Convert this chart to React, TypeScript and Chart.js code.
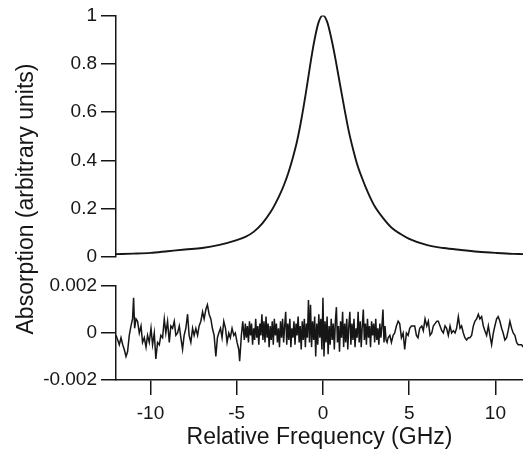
import { useEffect, useRef } from "react";
import { Chart, registerables } from "chart.js";

Chart.register(...registerables);

// ---- Data ----
const yTitle = "Absorption (arbitrary units)";
const xTitle = "Relative Frequency (GHz)";

const xMin = -12;
const xMax = 11.6;
const xTicks = [-10, -5, 0, 5, 10];
const topTicks = [0, 0.2, 0.4, 0.6, 0.8, 1];
const bottomTicks = [-0.002, 0, 0.002];

const peakFreq = [-12, -11, -10, -9, -8, -7, -6, -5, -4.5, -4, -3.5, -3, -2.75, -2.5, -2.25, -2, -1.75, -1.5, -1.25, -1, -0.75, -0.5, -0.25, 0, 0.25, 0.5, 0.75, 1, 1.25, 1.5, 1.75, 2, 2.25, 2.5, 2.75, 3, 3.5, 4, 4.5, 5, 6, 7, 8, 9, 10, 11, 11.6];
const peakAbs = [0.012, 0.014, 0.017, 0.024, 0.031, 0.037, 0.05, 0.07, 0.083, 0.105, 0.14, 0.19, 0.222, 0.258, 0.3, 0.35, 0.41, 0.48, 0.57, 0.675, 0.79, 0.895, 0.972, 1.0, 0.972, 0.9, 0.81, 0.71, 0.612, 0.52, 0.445, 0.38, 0.33, 0.285, 0.245, 0.21, 0.16, 0.12, 0.095, 0.075, 0.05, 0.037, 0.029, 0.022, 0.017, 0.013, 0.012];

const residual: [number, number][] = [
  [-12.0, -0.0001], [-11.9, -0.0003], [-11.81, -0.0005], [-11.71, -0.0002], [-11.61, -0.0005], [-11.52, -0.0007],
  [-11.42, -0.001], [-11.33, -0.0008], [-11.23, -0.0001], [-11.13, 0.0003], [-11.04, 0.0006], [-10.98, 0.0015],
  [-10.92, 0.0002], [-10.84, 0.0006], [-10.75, 0.0005], [-10.65, 0.0], [-10.55, 0.0003], [-10.46, -0.0004],
  [-10.36, -0.0002], [-10.26, -0.0006], [-10.17, -0.0001], [-10.07, -0.0004], [-9.97, 0.0002], [-9.88, -0.0005],
  [-9.78, 0.0], [-9.69, -0.0011], [-9.59, -0.0004], [-9.49, -0.0005], [-9.4, -0.0001], [-9.3, -0.0002],
  [-9.2, 0.0006], [-9.11, 0.0], [-9.01, 0.0005], [-8.91, -0.0004], [-8.82, 0.0003], [-8.72, 0.0002],
  [-8.62, 0.0005], [-8.53, -0.0001], [-8.43, 0.0], [-8.33, 0.0003], [-8.24, -0.0002], [-8.14, -0.0007],
  [-8.05, -0.0001], [-7.95, 0.0002], [-7.85, 0.0008], [-7.76, -0.0001], [-7.66, -0.0004], [-7.56, 0.0002],
  [-7.47, -0.0001], [-7.37, 0.0002], [-7.27, -0.0001], [-7.18, 0.0003], [-7.08, 0.0005], [-6.98, 0.0009],
  [-6.89, 0.0006], [-6.79, 0.001], [-6.7, 0.0012], [-6.6, 0.0008], [-6.5, 0.0006], [-6.41, 0.0002],
  [-6.31, -0.0001], [-6.21, -0.001], [-6.12, -0.0002], [-6.04, 0.0], [-5.94, 0.0002], [-5.85, -0.0002],
  [-5.75, 0.0005], [-5.65, 0.0002], [-5.56, -0.0004], [-5.46, 0.0], [-5.37, -0.0002], [-5.27, 0.0002],
  [-5.17, -0.0001], [-5.08, 0.0], [-4.98, -0.0004], [-4.88, -0.0007], [-4.83, -0.0012], [-4.73, -0.0001],
  [-4.65, 0.0005],
  [-4.56, -0.0003], [-4.5, 0.0004], [-4.44, -0.0002], [-4.38, 0.0003], [-4.32, -0.0004], [-4.26, 0.0005],
  [-4.2, -0.0001], [-4.14, 0.0004], [-4.08, -0.0005], [-4.02, 0.0002], [-3.96, -0.0003], [-3.9, 0.0006],
  [-3.84, -0.0002], [-3.78, 0.0003], [-3.72, -0.0005], [-3.66, 0.0004], [-3.6, -0.0001], [-3.54, 0.0008],
  [-3.48, -0.0003], [-3.42, 0.0005], [-3.36, -0.0004], [-3.3, 0.0007], [-3.24, -0.0002], [-3.18, 0.0004],
  [-3.12, -0.0006], [-3.06, 0.0003], [-3.0, -0.0003], [-2.94, 0.0005], [-2.88, -0.0005], [-2.82, 0.0006],
  [-2.76, -0.0001], [-2.7, 0.0004], [-2.64, -0.0004], [-2.58, 0.0002], [-2.52, -0.0006], [-2.46, 0.0005],
  [-2.4, -0.0002], [-2.34, 0.0006], [-2.28, -0.0004], [-2.22, 0.0003], [-2.16, 0.0009], [-2.1, -0.0005],
  [-2.04, 0.0004], [-1.98, -0.0003], [-1.92, 0.0006], [-1.86, -0.0006], [-1.8, 0.0002], [-1.74, -0.0002],
  [-1.68, 0.0005], [-1.62, -0.0005], [-1.56, 0.0004], [-1.5, -0.0001], [-1.44, 0.0007], [-1.38, -0.0004],
  [-1.32, 0.0003], [-1.26, -0.0007], [-1.2, 0.0005], [-1.14, -0.0003], [-1.08, 0.0006], [-1.02, -0.0006],
  [-0.96, 0.0004], [-0.9, -0.0002], [-0.84, 0.0014], [-0.78, -0.0004], [-0.72, 0.0012], [-0.66, -0.0006],
  [-0.6, 0.0005], [-0.54, -0.0003], [-0.48, 0.0007], [-0.42, -0.001], [-0.36, 0.0004], [-0.3, -0.0005],
  [-0.24, 0.0008], [-0.18, -0.0002], [-0.12, 0.0006], [-0.06, -0.0007], [0.0, 0.0015], [0.06, -0.001],
  [0.12, 0.0005], [0.18, -0.0004], [0.24, 0.0007], [0.3, -0.0009], [0.36, 0.0003], [0.42, -0.0005],
  [0.48, 0.0006], [0.54, -0.0003], [0.6, 0.0004], [0.66, -0.0007], [0.72, 0.0005], [0.78, 0.0011],
  [0.84, -0.0004], [0.9, 0.0003], [0.96, -0.0008], [1.02, 0.0005], [1.08, -0.0002], [1.14, 0.0009],
  [1.2, -0.0006], [1.26, 0.0004], [1.32, -0.0004], [1.38, 0.0006], [1.44, -0.0007], [1.5, 0.0003],
  [1.56, 0.0009], [1.62, -0.0005], [1.68, 0.0004], [1.74, -0.0003], [1.8, 0.0006], [1.86, -0.0006],
  [1.92, 0.0002], [1.98, -0.0002], [2.04, 0.0009], [2.1, -0.0004], [2.16, 0.0005], [2.22, -0.0006],
  [2.28, 0.0003], [2.34, 0.001], [2.4, -0.0003], [2.46, 0.0004], [2.52, -0.0005], [2.58, 0.0006],
  [2.64, -0.0002], [2.7, 0.0003], [2.76, -0.0006], [2.82, 0.0005], [2.88, -0.0001], [2.94, 0.0004],
  [3.0, -0.0004], [3.06, 0.0006], [3.12, -0.0003], [3.18, 0.0002], [3.24, -0.0005], [3.3, 0.0004],
  [3.36, -0.0002], [3.42, 0.0003], [3.48, 0.001], [3.54, -0.0004], [3.6, 0.0003], [3.66, -0.0003],
  [3.72, -0.0004], [3.78, -0.0002], [3.88, -0.0001], [3.97, -0.0004], [4.07, -0.0001], [4.16, 0.0],
  [4.26, 0.0003], [4.36, 0.0005], [4.45, 0.0004], [4.55, -0.0002], [4.65, 0.0], [4.74, -0.0007],
  [4.84, 0.0], [4.94, -0.0001], [5.03, 0.0002], [5.13, 0.0003], [5.23, 0.0003], [5.32, 0.0003],
  [5.42, -0.0001], [5.51, -0.0002], [5.61, 0.0002], [5.73, 0.0003], [5.82, 0.0001], [5.92, 0.0006],
  [6.02, 0.0003], [6.11, 0.0005], [6.21, -0.0001], [6.31, 0.0], [6.4, 0.0003], [6.5, 0.0004],
  [6.6, 0.0005], [6.69, 0.0005], [6.79, 0.0003], [6.89, 0.0001], [6.98, 0.0], [7.08, 0.0003],
  [7.17, 0.0002], [7.27, -0.0001], [7.37, 0.0003], [7.46, 0.0], [7.56, 0.0001], [7.66, 0.0],
  [7.75, 0.0002], [7.85, 0.0007], [7.95, 0.0002], [8.04, 0.0003], [8.14, 0.0], [8.23, -0.0002],
  [8.33, -0.0003], [8.43, -0.0002], [8.52, -0.0002], [8.62, -0.0001], [8.72, 0.0003], [8.81, 0.0005],
  [8.91, 0.0006], [9.01, 0.0008], [9.1, 0.0006], [9.2, 0.0007], [9.3, 0.0003], [9.39, 0.0001],
  [9.49, -0.0001], [9.59, 0.0003], [9.68, -0.0001], [9.78, -0.0005], [9.88, 0.0], [9.97, 0.0003],
  [10.07, 0.0006], [10.16, 0.0007], [10.26, 0.0005], [10.36, 0.0002], [10.45, 0.0], [10.55, -0.0003],
  [10.65, -0.0002], [10.74, 0.0001], [10.84, 0.0005], [10.94, 0.0002], [11.03, 0.0], [11.13, -0.0001],
  [11.23, -0.0004], [11.32, -0.0005], [11.42, -0.0005], [11.52, -0.0005], [11.61, -0.0006],
];

// ---- Styling ----
const FONT = '"Liberation Sans", Arial, Helvetica, sans-serif';
const INK = "#161616";
const AXIS_W = 116;
const TICK_SIZE = 19;
const TITLE_SIZE = 23;

const yTitlePlugin = {
  id: "yTitleOverlay",
  afterDraw(chart: any) {
    const ctx = chart.ctx;
    ctx.save();
    ctx.translate(33, 199);
    ctx.rotate(-Math.PI / 2);
    ctx.font = `${TITLE_SIZE}px ${FONT}`;
    ctx.fillStyle = INK;
    ctx.textAlign = "center";
    ctx.textBaseline = "alphabetic";
    ctx.fillText(yTitle, 0, 0);
    ctx.restore();
  },
};

function yAxis(min: number, max: number, ticks: number[], fmt: (v: number) => string) {
  return {
    min,
    max,
    afterFit: (s: any) => {
      s.width = AXIS_W;
    },
    afterBuildTicks: (s: any) => {
      s.ticks = ticks.map((v) => ({ value: v }));
    },
    ticks: {
      color: INK,
      font: { family: FONT, size: TICK_SIZE },
      padding: 4,
      callback: (v: any) => fmt(Number(v)),
    },
    grid: { display: true, drawOnChartArea: false, drawTicks: true, tickLength: 15, color: INK, lineWidth: 1.5 },
    border: { display: true, color: INK, width: 1.5 },
  };
}

export default function App() {
  const topRef = useRef<HTMLCanvasElement>(null);
  const botRef = useRef<HTMLCanvasElement>(null);

  useEffect(() => {
    Chart.defaults.font.family = FONT;
    const top = new Chart(topRef.current!, {
      type: "line",
      data: {
        datasets: [
          {
            data: peakFreq.map((f, i) => ({ x: f, y: peakAbs[i] })),
            borderColor: INK,
            borderWidth: 1.9,
            pointRadius: 0,
            cubicInterpolationMode: "monotone",
          },
        ],
      },
      options: {
        animation: false,
        responsive: false,
        events: [],
        layout: { padding: { top: 14, right: 0, bottom: 192, left: 0 } },
        plugins: { legend: { display: false }, tooltip: { enabled: false } },
        scales: {
          x: { type: "linear", min: xMin, max: xMax, display: false },
          y: yAxis(0, 1, topTicks, (v) => String(v)) as any,
        },
      },
      plugins: [yTitlePlugin],
    } as any);

    const bot = new Chart(botRef.current!, {
      type: "line",
      data: {
        datasets: [
          {
            data: residual.map(([f, v]) => ({ x: f, y: v })),
            borderColor: INK,
            borderWidth: 1.5,
            pointRadius: 0,
            tension: 0,
          },
        ],
      },
      options: {
        animation: false,
        responsive: false,
        events: [],
        layout: { padding: { top: 16, right: 0, bottom: 0, left: 0 } },
        plugins: { legend: { display: false }, tooltip: { enabled: false } },
        scales: {
          x: {
            type: "linear",
            min: xMin,
            max: xMax,
            afterFit: (s: any) => {
              s.height = 69;
            },
            afterBuildTicks: (s: any) => {
              s.ticks = xTicks.map((v) => ({ value: v }));
            },
            ticks: {
              color: INK,
              font: { family: FONT, size: TICK_SIZE },
              padding: 7,
              maxRotation: 0,
              callback: (v: any) => String(v),
            },
            grid: { display: true, drawOnChartArea: false, drawTicks: true, tickLength: 15, color: INK, lineWidth: 1.5 },
            border: { display: true, color: INK, width: 1.5 },
            title: {
              display: true,
              text: xTitle,
              color: INK,
              font: { family: FONT, size: TITLE_SIZE, lineHeight: 1 },
              padding: { top: 0, bottom: 0 },
            },
          },
          y: yAxis(-0.002, 0.002, bottomTicks, (v) => (v === 0 ? "0" : v.toFixed(3))) as any,
        },
      },
    } as any);

    return () => {
      top.destroy();
      bot.destroy();
    };
  }, []);

  return (
    <div style={{ position: "fixed", left: 0, top: 0, width: 523, height: 449, background: "#fff" }}>
      <canvas
        ref={topRef}
        width={523}
        height={449}
        style={{ position: "absolute", left: 0, top: 0, width: 523, height: 449 }}
      />
      <canvas
        ref={botRef}
        width={523}
        height={179}
        style={{ position: "absolute", left: 0, top: 270, width: 523, height: 179 }}
      />
    </div>
  );
}
